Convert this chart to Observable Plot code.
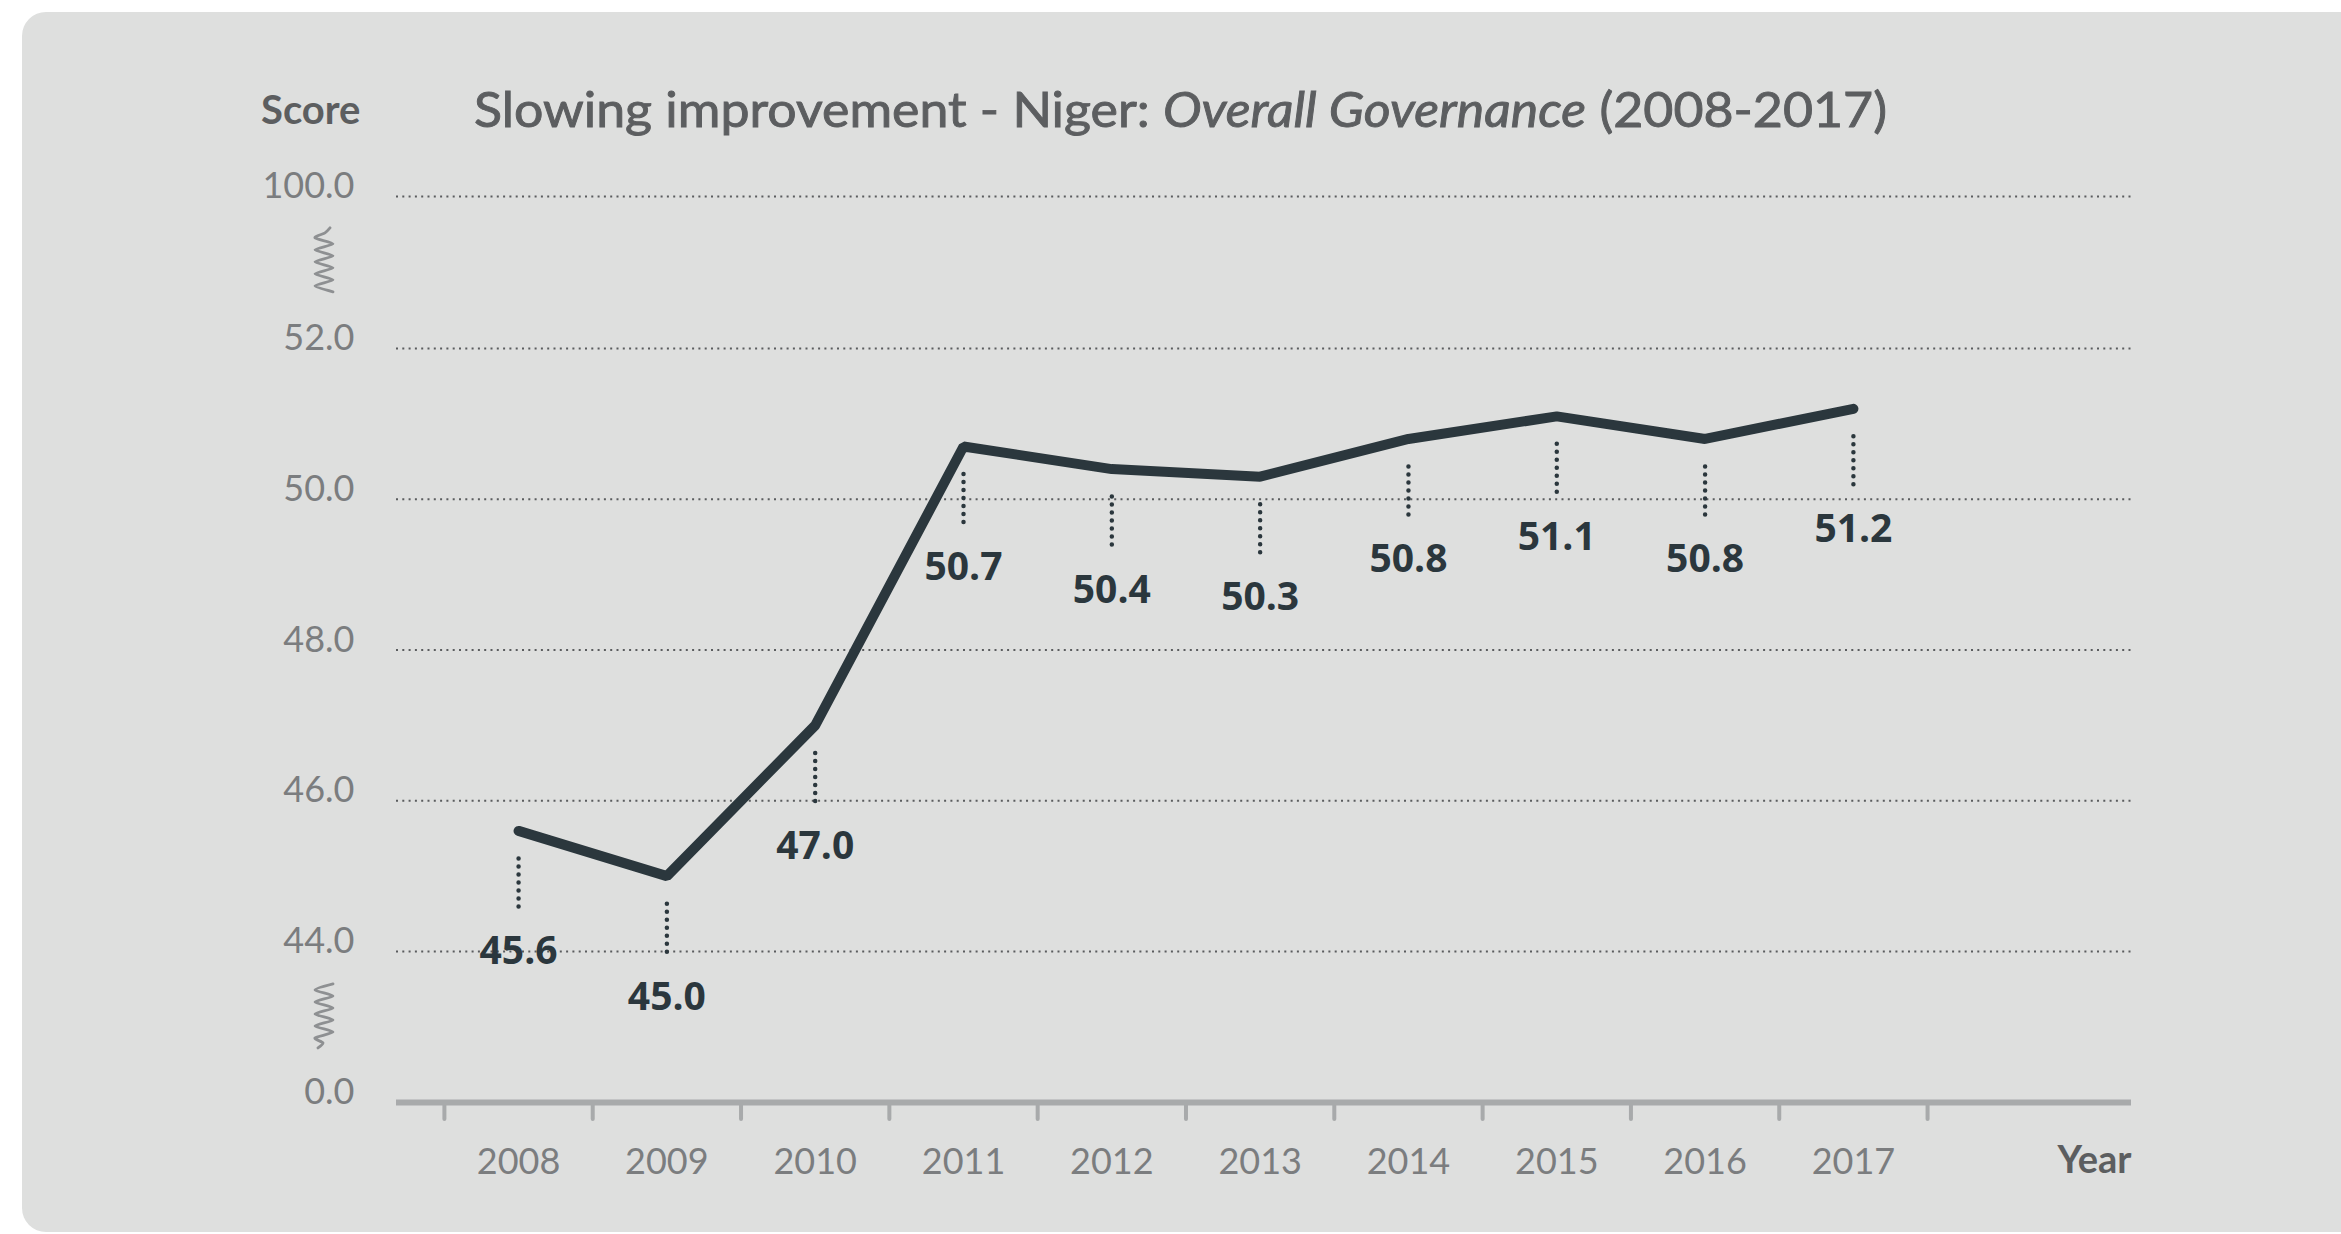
<!DOCTYPE html>
<html>
<head>
<meta charset="utf-8">
<script src="https://cdn.jsdelivr.net/npm/d3@7"></script>
<script src="https://cdn.jsdelivr.net/npm/@observablehq/plot@0.6"></script>
<style>
  html, body { margin: 0; padding: 0; background: #ffffff; }
  body { width: 2341px; height: 1234px; overflow: hidden; position: relative; font-family: Lato, "Noto Sans", sans-serif; }
  #panel { position: absolute; left: 22px; top: 12px; width: 2360px; height: 1220px; background: #dedfde; border-radius: 24px; }
  #chart { position: absolute; left: 0; top: 0; width: 2341px; }
  #chart svg { display: block; }
</style>
</head>
<body>
<div id="panel"></div>
<div id="chart"></div>
<script>
// ---- data ----
const years = [2008, 2009, 2010, 2011, 2012, 2013, 2014, 2015, 2016, 2017];
const scores = [45.6, 45.0, 47.0, 50.7, 50.4, 50.3, 50.8, 51.1, 50.8, 51.2];
const yTicks = [0, 44, 46, 48, 50, 52, 100];
const gridValues = [44, 46, 48, 50, 52, 100];
const yearBoundaries = [2007.5, 2008.5, 2009.5, 2010.5, 2011.5, 2012.5, 2013.5, 2014.5, 2015.5, 2016.5, 2017.5];
const titleMain = "Slowing improvement - Niger: ";
const titleItalic = "Overall Governance";
const titleEnd = " (2008-2017)";
const yLabel = "Score";
const xLabel = "Year";

const data = years.map((year, i) => ({year, value: scores[i]}));

const dark = "#2b373d";
const grey = "#7b7d7f";
const labelGrey = "#5c5e60";

// ---- header (title + y label) ----
const container = document.getElementById("chart");
const header = d3.create("svg").attr("width", 2341).attr("height", 150);
header.append("text")
  .attr("x", 261).attr("y", 124)
  .attr("font-family", "Lato, sans-serif").attr("font-weight", 700).attr("font-size", 40)
  .attr("fill", labelGrey)
  .text(yLabel);
const title = header.append("text")
  .attr("x", 474).attr("y", 127)
  .attr("font-family", "Lato, sans-serif").attr("font-size", 48)
  .attr("fill", labelGrey).attr("stroke", labelGrey).attr("stroke-width", 0.9);
title.append("tspan").text(titleMain);
title.append("tspan").attr("font-style", "italic").text(titleItalic);
title.append("tspan").text(titleEnd);
container.appendChild(header.node());
title.attr("textLength", 1413).attr("lengthAdjust", "spacingAndGlyphs");

// ---- chart ----
const H = 1084;
const plot = Plot.plot({
  width: 2341,
  height: H,
  marginLeft: 396,
  marginRight: 210,
  marginTop: 46,
  marginBottom: 132,
  style: {background: "transparent", overflow: "visible", fontFamily: "Lato, sans-serif"},
  x: {type: "linear", domain: [2007.177, 2018.875]},
  y: {type: "linear", domain: [0, 44, 52, 100], range: [952, 801, 198, 46]},
  marks: [
    Plot.gridY(gridValues, {stroke: "#5a5c5e", strokeOpacity: 1, strokeWidth: 2, strokeDasharray: "2,4.3"}),
    Plot.axisY(yTicks, {anchor: "left", tickSize: 0, tickPadding: 42, dy: -10,
      tickFormat: d => d.toFixed(1), fontSize: 36, color: grey, label: null}),
    Plot.axisX(yearBoundaries, {anchor: "bottom", tickSize: 17, text: null, stroke: "#a8aaab",
      strokeWidth: 4, strokeLinecap: "round", label: null}),
    Plot.ruleY([0], {stroke: "#a8aaab", strokeWidth: 6}),
    Plot.axisX(years, {anchor: "bottom", tickSize: 0, tickPadding: 46, tickFormat: d => String(d),
      fontSize: 36, color: grey, label: null}),
    Plot.text([xLabel], {frameAnchor: "bottom-right", dy: 58, text: d => d, textAnchor: "end",
      lineAnchor: "middle", fontSize: 38, fontWeight: 700, fill: labelGrey}),
    Plot.ruleX(data, {x: "year", y1: "value", y2: "value", insetTop: -25, insetBottom: -25, dy: 53,
      stroke: dark, strokeWidth: 4.5, strokeDasharray: "0,8", strokeLinecap: "round"}),
    Plot.line(data, {x: "year", y: "value", stroke: dark, strokeWidth: 10,
      strokeLinejoin: "miter", strokeLinecap: "round"}),
    Plot.text(data, {x: "year", y: "value", text: d => d.value.toFixed(1), dy: 121,
      fontFamily: "'Open Sans', sans-serif", fontWeight: 700, fontSize: 39, fill: dark})
  ]
});
container.appendChild(plot);

// ---- axis-break squiggles, placed with the plot's own y scale ----
const ys = plot.scale("y");
const svg = d3.select(plot);
function squiggle(yTop, yBot, frac, tailTop) {
  const c = 324, h = 64, a = 9;
  const mid = ys.apply(yTop) + frac * (ys.apply(yBot) - ys.apply(yTop));
  const top = mid - h / 2;
  const pts = [];
  const n = 9, step = (h - 10) / n;
  if (tailTop) {
    pts.push([c + 6, top]);
    pts.push([c + 1, top + 5]);
    for (let k = 0; k <= n; k++) pts.push([k % 2 ? c + a : c - a, top + 10 + k * step]);
  } else {
    for (let k = 0; k <= n; k++) pts.push([k % 2 ? c - a : c + a, top + k * step]);
    pts.push([c - 1, top + h - 5]);
    pts.push([c - 6, top + h]);
  }
  svg.append("path")
    .attr("d", d3.line().curve(d3.curveCardinal.tension(0.3))(pts))
    .attr("fill", "none").attr("stroke", "#8e9092").attr("stroke-width", 2.8)
    .attr("stroke-linecap", "round");
}
squiggle(100, 52, 0.42, true);
squiggle(44, 0, 0.43, false);
</script>
</body>
</html>
